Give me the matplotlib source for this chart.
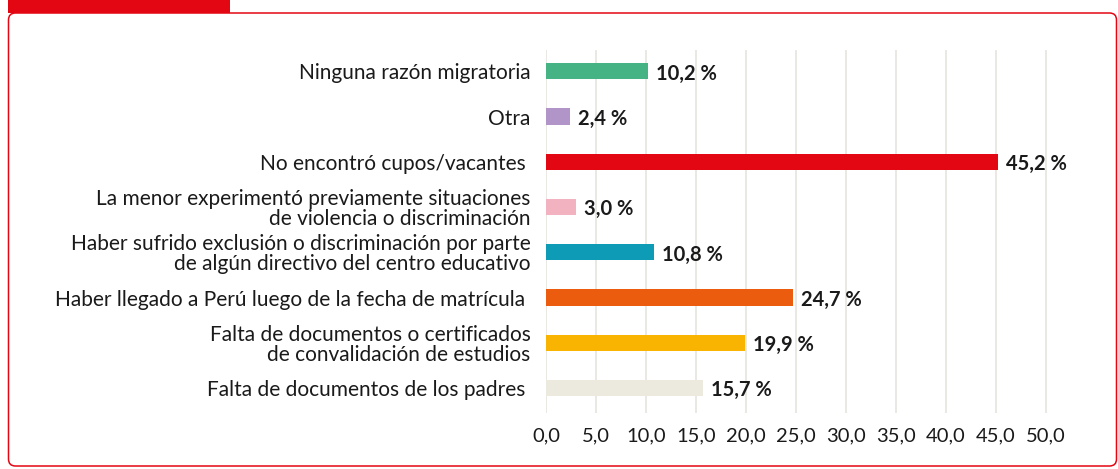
import matplotlib.pyplot as plt
from matplotlib.patches import FancyBboxPatch, Rectangle
from matplotlib.transforms import IdentityTransform

plt.rcParams['font.family'] = ['Lato', 'DejaVu Sans']

# categories from top to bottom
categorias = [
    'Ninguna razón migratoria',
    'Otra',
    'No encontró cupos/vacantes ',
    'La menor experimentó previamente situaciones\nde violencia o discriminación',
    'Haber sufrido exclusión o discriminación por parte\nde algún directivo del centro educativo',
    'Haber llegado a Perú luego de la fecha de matrícula ',
    'Falta de documentos o certificados\nde convalidación de estudios',
    'Falta de documentos de los padres ',
]
valores = [10.2, 2.4, 45.2, 3.0, 10.8, 24.7, 19.9, 15.7]
colores = ['#45B383', '#B195C8', '#E30613', '#F2B2BF', '#0E9BB5', '#EB5C0F', '#F8B400', '#ECE9DF']
ticks = [0, 5, 10, 15, 20, 25, 30, 35, 40, 45, 50]

W, H = 1118, 469
fig = plt.figure(figsize=(W / 100, H / 100), dpi=100)
ax = fig.add_axes([546 / W, (H - 413) / H, 550 / W, 363 / H])

pos = list(range(len(categorias)))
ax.barh(pos, valores, height=0.36, color=colores, zorder=3)
for p, v in zip(pos, valores):
    ax.text(v + 0.8, p + 0.05, f'{v:.1f} %'.replace('.', ','), va='center', ha='left',
            fontsize=14.5, fontweight='bold', color='#1a1a1a')

ax.set_xlim(0, 55)
ax.set_ylim(7.55, -0.47)
ax.set_yticks(pos)
ax.set_yticklabels(categorias, fontsize=15, color='#1a1a1a', linespacing=0.98)
ax.set_xticks(ticks)
ax.set_xticklabels([f'{t:.1f}'.replace('.', ',') for t in ticks], fontsize=14.5, color='#1a1a1a')
ax.tick_params(axis='both', length=0)
ax.tick_params(axis='y', pad=11)
ax.tick_params(axis='x', pad=10)
ax.grid(axis='x', color='#E8E6DF', linewidth=1.3, zorder=0)
for s in ax.spines.values():
    s.set_visible(False)

# red frame around the panel
frame = FancyBboxPatch((8.5, 3), 1108, 453, boxstyle='round,pad=0,rounding_size=7',
                       transform=IdentityTransform(), fill=False, edgecolor='#E30613',
                       linewidth=1.1)
fig.patches.append(frame)
fig.patches.append(Rectangle((8, 456), 222, 14, transform=IdentityTransform(),
                             facecolor='#E30613', edgecolor='none'))

fig.savefig('out.png', dpi=100)
